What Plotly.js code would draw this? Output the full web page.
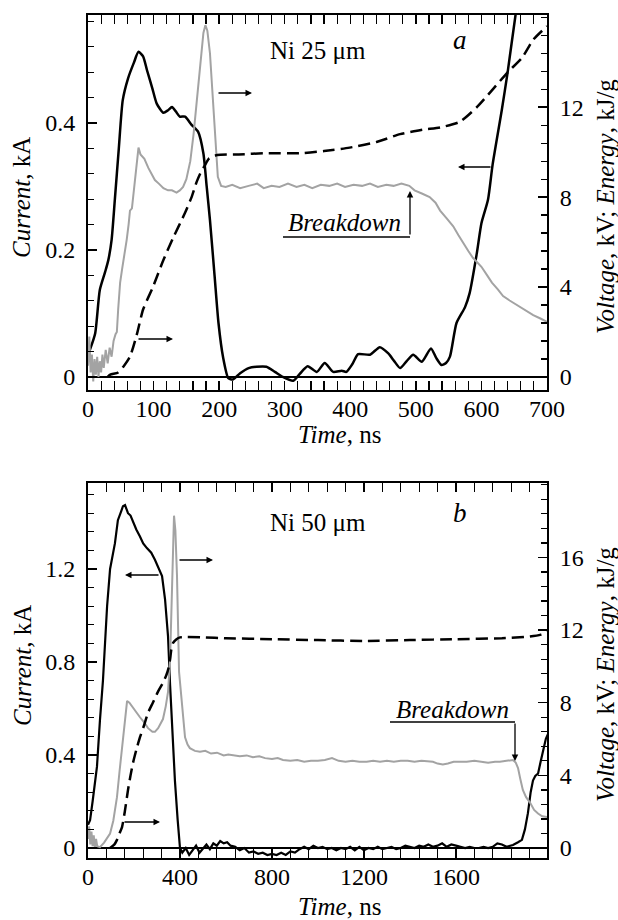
<!DOCTYPE html>
<html>
<head>
<meta charset="utf-8">
<script src="https://cdn.plot.ly/plotly-3.0.1.min.js"></script>
<style>html,body{margin:0;padding:0;background:#fff;}#chart{width:618px;height:920px;}</style>
</head>
<body>
<div id="chart"></div>
<script>
// ---------- Panel a: Ni 25 um ----------
const tCurA = [0,3,11,18,26,31,36,41,47,53,61,70,77,84,90,98,105,115,122,128,134,140,148,158,168,176,181,186,193,199,206,214,221,232,245,257,272,285,297,313,323,335,349,361,374,387,394,403,412,430,445,458,467,476,486,496,509,523,531,539,546,552,562,575,582,593,600,610,617,631,640,652,660];
const curA  = [0.035,0.043,0.069,0.137,0.165,0.184,0.216,0.28,0.36,0.436,0.47,0.495,0.512,0.505,0.483,0.455,0.43,0.416,0.42,0.425,0.418,0.41,0.41,0.397,0.386,0.352,0.30,0.247,0.16,0.085,0.031,-0.002,-0.004,0.006,0.014,0.016,0.016,0.008,0,-0.006,0.005,0.017,0.008,0.022,0.008,0.01,0.008,0.02,0.036,0.035,0.047,0.037,0.025,0.014,0.025,0.035,0.024,0.045,0.03,0.019,0.022,0.032,0.085,0.11,0.132,0.195,0.242,0.279,0.334,0.42,0.48,0.57,0.62];

const tVoltA = [0,2,4,6,8,10,12,14,16,18,20,22,24,27,30,33,36,39,42,44,46,49,52,55,59,62,64,67,72,77,80,86,92,97,102,108,115,122,128,135,140,145,150,156,161,166,170,173,176,179,182,186,189,192,195,198,203,210,220,232,245,258,268,280,292,305,318,330,342,355,368,380,392,405,418,430,442,455,466,478,490,498,510,521,530,537,547,557,565,572,580,587,594,600,608,616,625,633,643,654,667,679,690,700];
const voltA  = [0.5,1.8,0.2,1.0,-0.2,0.8,0.1,0.9,0.0,0.7,0.2,1.0,0.4,1.2,0.6,1.3,0.9,1.6,1.9,2.0,3.0,4.2,4.8,5.3,6.1,6.8,7.4,7.5,8.9,10.2,9.9,9.7,9.3,9.0,8.76,8.6,8.4,8.3,8.3,8.2,8.3,8.45,8.8,9.6,10.8,12.3,13.5,14.5,15.3,15.65,15.4,14.4,13.1,11.6,10.2,8.9,8.5,8.45,8.55,8.4,8.5,8.6,8.4,8.5,8.45,8.6,8.45,8.55,8.4,8.55,8.5,8.6,8.45,8.55,8.5,8.6,8.45,8.55,8.5,8.6,8.5,8.3,8.15,8.0,7.75,7.4,7.05,6.7,6.3,5.95,5.6,5.3,5.1,4.9,4.55,4.2,3.9,3.6,3.4,3.2,2.95,2.75,2.6,2.45];

const tEnA = [30,34,46,55,64,75,84,99,115,130,148,158,166,172,178,184,190,197,230,270,323,360,399,440,476,510,537,567,593,616,640,662,679,700];
const enA  = [0,0.1,0.2,0.5,0.9,1.95,3.0,4.0,5.2,6.2,7.3,8.0,8.7,9.1,9.4,9.7,9.8,9.87,9.9,9.95,9.95,10.05,10.2,10.45,10.8,11.0,11.1,11.35,12.0,12.75,13.55,14.2,15.0,15.6];

// ---------- Panel b: Ni 50 um ----------
const tCurB = [0,9,20,39,52,65,83,96,117,130,145,152,161,166,174,185,196,210,226,240,256,275,291,305,322,335,342,348,357,367,378,390,400,410,425,440,455,470,485,500,515,530,545,560,575,590,605,620,640,660,680,700,720,740,760,780,800,820,840,860,880,900,920,940,960,980,1000,1020,1040,1060,1080,1100,1120,1140,1160,1180,1200,1220,1240,1260,1280,1300,1320,1340,1360,1380,1400,1420,1440,1460,1480,1500,1520,1540,1560,1580,1600,1620,1640,1660,1680,1700,1720,1740,1760,1780,1800,1820,1848,1870,1887,1900,1913,1925,1935,1945,1957,1968,1978,1991,2000];
const curB  = [0.1,0.12,0.2,0.35,0.55,0.72,1.04,1.2,1.31,1.41,1.45,1.47,1.475,1.46,1.44,1.43,1.40,1.37,1.34,1.31,1.29,1.27,1.24,1.21,1.17,1.07,1.0,0.91,0.70,0.5,0.29,0.12,0.0,-0.02,0.0,-0.03,-0.01,0.01,-0.02,0.0,0.015,-0.005,0.02,0.01,0.03,0.02,0.025,0.01,0.005,-0.01,0.0,-0.02,-0.015,-0.025,-0.02,-0.03,-0.025,-0.03,-0.02,-0.03,-0.015,-0.02,-0.005,0.005,-0.005,0.01,0.0,0.005,-0.005,0.0,-0.01,0.0,-0.005,0.005,-0.01,0.005,-0.01,0.0,-0.005,0.005,-0.005,0.0,0.005,-0.005,0.0,0.01,0.005,0.0,0.01,0.005,0.015,0.005,0.01,0.02,0.005,0.015,0.01,0.005,0.0,0.005,0.0,0.0,0.005,0.0,0.005,0.02,0.015,0.005,0.013,0.025,0.035,0.08,0.15,0.24,0.29,0.31,0.32,0.37,0.41,0.47,0.49];

const tVoltB = [0,5,10,15,20,25,30,35,40,52,70,96,110,126,137,148,160,170,180,191,210,226,245,261,280,291,305,318,326,338,348,357,365,374,380,387,396,409,422,433,443,465,487,510,535,561,590,610,630,660,690,717,745,770,800,825,848,880,910,940,970,1000,1030,1061,1090,1120,1150,1180,1212,1240,1270,1300,1330,1360,1390,1420,1450,1480,1500,1520,1543,1565,1590,1620,1647,1680,1710,1740,1770,1791,1820,1848,1860,1870,1880,1891,1905,1922,1940,1957,1975,1996];
const voltB  = [0.5,1.2,0.2,0.9,0.1,0.7,0.0,0.5,0.1,0.05,0.3,0.8,1.5,2.8,4.2,5.6,7.2,8.1,8.0,7.8,7.5,7.2,6.9,6.6,6.4,6.4,6.6,6.9,7.1,7.8,8.6,10.4,15.0,18.3,17.5,15.0,9.7,7.8,6.1,5.7,5.5,5.35,5.3,5.35,5.2,5.25,5.1,5.15,5.1,5.05,5.1,5.0,5.05,4.95,4.9,4.95,4.85,4.8,4.85,4.75,4.8,4.8,4.85,4.95,4.8,4.75,4.8,4.75,4.75,4.8,4.75,4.8,4.75,4.8,4.8,4.75,4.8,4.75,4.75,4.65,4.6,4.65,4.75,4.75,4.75,4.8,4.75,4.7,4.75,4.75,4.8,4.85,4.7,4.4,3.8,3.2,2.8,2.5,2.1,1.9,1.75,1.7];

const tEnB = [96,115,126,137,148,160,174,185,196,210,226,245,261,282,304,326,340,350,357,363,370,385,400,500,600,800,1000,1200,1400,1600,1800,1922,1970,2000];
const enB  = [0.0,0.2,0.45,0.8,1.15,2.0,3.2,4.0,4.7,5.4,6.1,6.8,7.45,8.0,8.6,9.1,9.5,9.9,10.4,11.0,11.3,11.5,11.6,11.6,11.55,11.5,11.45,11.4,11.45,11.5,11.55,11.65,11.75,11.9];

// tick labels
const xTicksA = [0,100,200,300,400,500,600,700];
const yLTicksA = [0,0.2,0.4], yLTextA = ['0','0.2','0.4'];
const yRTicksA = [0,4,8,12];
const xTicksB = [0,400,800,1200,1600];
const yLTicksB = [0,0.4,0.8,1.2], yLTextB = ['0','0.4','0.8','1.2'];
const yRTicksB = [0,4,8,12,16];

const FONT = 'Liberation Serif';
const GRAY = '#a3a3a3';
const DASH = '12px,6px';

const traces = [
  {x:tVoltA, y:voltA, xaxis:'x', yaxis:'y2', mode:'lines', line:{color:GRAY, width:2}},
  {x:tEnA, y:enA, xaxis:'x', yaxis:'y2', mode:'lines', line:{color:'#000', width:2.5, dash:DASH, shape:'spline', smoothing:0.6}},
  {x:tCurA, y:curA, xaxis:'x', yaxis:'y', mode:'lines', line:{color:'#000', width:2.5, shape:'spline', smoothing:0.6}},
  {x:tVoltB, y:voltB, xaxis:'x2', yaxis:'y4', mode:'lines', line:{color:GRAY, width:2}},
  {x:tEnB, y:enB, xaxis:'x2', yaxis:'y4', mode:'lines', line:{color:'#000', width:2.5, dash:DASH, shape:'spline', smoothing:0.5}},
  {x:tCurB, y:curB, xaxis:'x2', yaxis:'y3', mode:'lines', line:{color:'#000', width:2.2}}
];

// pixel -> paper helpers (plot area: x 88..547, y 15..858)
const PX = p => (p - 88) / 459;
const PY = p => (858 - p) / 843;

const tf = {family:FONT, size:24, color:'#000'};
function axX(range, ticks, dminor, anchor) {
  return {range:range, anchor:anchor, domain:[0,1], tickmode:'array', tickvals:ticks,
    ticks:'inside', ticklen:9, tickwidth:1.5, tickcolor:'#000', showline:true, linewidth:2, linecolor:'#000',
    mirror:'allticks', showgrid:false, zeroline:false, tickfont:tf, ticklabelstandoff:-4,
    minor:{ticks:'inside', dtick:dminor, tick0:0, ticklen:6, tickwidth:1.2, tickcolor:'#000', showgrid:false}};
}
function axYL(range, ticks, text, dminor, anchor, domain) {
  return {range:range, anchor:anchor, domain:domain, tickmode:'array', tickvals:ticks, ticktext:text,
    ticks:'inside', ticklen:9, tickwidth:1.5, tickcolor:'#000', showline:true, linewidth:2, linecolor:'#000',
    showgrid:false, zeroline:true, zerolinecolor:'#000', zerolinewidth:1.5, tickfont:tf, ticklabelstandoff:6,
    minor:{ticks:'inside', dtick:dminor, tick0:0, ticklen:6, tickwidth:1.2, tickcolor:'#000', showgrid:false}};
}
function axYR(range, ticks, dminor, anchor, over) {
  return {range:range, anchor:anchor, overlaying:over, side:'right', tickmode:'array', tickvals:ticks,
    ticks:'inside', ticklen:9, tickwidth:1.5, tickcolor:'#000', showline:true, linewidth:2, linecolor:'#000',
    showgrid:false, zeroline:false, tickfont:tf, ticklabelstandoff:6,
    minor:{ticks:'inside', dtick:dminor, tick0:0, ticklen:6, tickwidth:1.2, tickcolor:'#000', showgrid:false}};
}

function txt(x, y, text, size, extra) {
  return Object.assign({xref:'paper', yref:'paper', x:PX(x), y:PY(y), text:text, showarrow:false,
    xanchor:'center', yanchor:'middle', font:{family:FONT, size:size, color:'#000'}}, extra||{});
}
function arrow(hx, hy, ax, ay) {
  return {xref:'paper', yref:'paper', x:PX(hx), y:PY(hy), ax:ax, ay:ay, text:'', showarrow:true,
    arrowhead:2, arrowsize:1, arrowwidth:1.3, arrowcolor:'#000', standoff:0, startstandoff:0};
}
function seg(x0, y0, x1, y1) {
  return {type:'line', xref:'paper', yref:'paper', x0:PX(x0), y0:PY(y0), x1:PX(x1), y1:PY(y1),
    line:{color:'#000', width:1.3}};
}

const annotations = [
  // axis titles panel a
  txt(22, 198, '<i>Current</i>, kA', 25, {textangle:-90}),
  txt(605, 207, '<i>Voltage</i>, kV; <i>Energy</i>, kJ/g', 25, {textangle:-90}),
  txt(339, 435, '<i>Time</i>, ns', 25),
  // axis titles panel b
  txt(22, 666, '<i>Current</i>, kA', 25, {textangle:-90}),
  txt(605, 675, '<i>Voltage</i>, kV; <i>Energy</i>, kJ/g', 25, {textangle:-90}),
  txt(339, 906, '<i>Time</i>, ns', 25),
  // labels
  txt(318, 51, 'Ni 25 μm', 25),
  txt(460, 40, '<i>a</i>', 27),
  txt(318, 522, 'Ni 50 μm', 25),
  txt(460, 513, '<i>b</i>', 27),
  txt(344, 223, '<i>Breakdown</i>', 25),
  txt(452, 709, '<i>Breakdown</i>', 25),
  // arrows panel a
  arrow(252, 93, -35, 0),
  arrow(173, 339, -36, 0),
  arrow(458, 167, 34, 0),
  arrow(410, 191, 0, 45),
  // arrows panel b
  arrow(125, 575, 35, 0),
  arrow(213, 560, -35, 0),
  arrow(160, 822, -37, 0),
  arrow(515, 761, 0, -39)
];

const shapes = [
  seg(283, 237, 410, 237),
  seg(390, 722, 515, 722)
];

const layout = {
  width:618, height:920,
  margin:{l:88, r:71, t:15, b:62, pad:0},
  paper_bgcolor:'#fff', plot_bgcolor:'#fff',
  showlegend:false,
  font:{family:FONT, size:24, color:'#000'},
  xaxis: axX([0,700], xTicksA, 20, 'y'),
  yaxis: axYL([-0.0205,0.570], yLTicksA, yLTextA, 0.04, 'x', [PY(390), 1]),
  yaxis2: axYR([-0.58,16.1], yRTicksA, 0.8, 'x', 'y'),
  xaxis2: axX([0,1996], xTicksB, 80, 'y3'),
  yaxis3: axYL([-0.043,1.570], yLTicksB, yLTextB, 0.08, 'x2', [0, PY(483)]),
  yaxis4: axYR([-0.55,20.1], yRTicksB, 0.8, 'x2', 'y3'),
  annotations: annotations,
  shapes: shapes
};

Plotly.newPlot('chart', traces, layout, {staticPlot:true, displayModeBar:false});
</script>
</body>
</html>
